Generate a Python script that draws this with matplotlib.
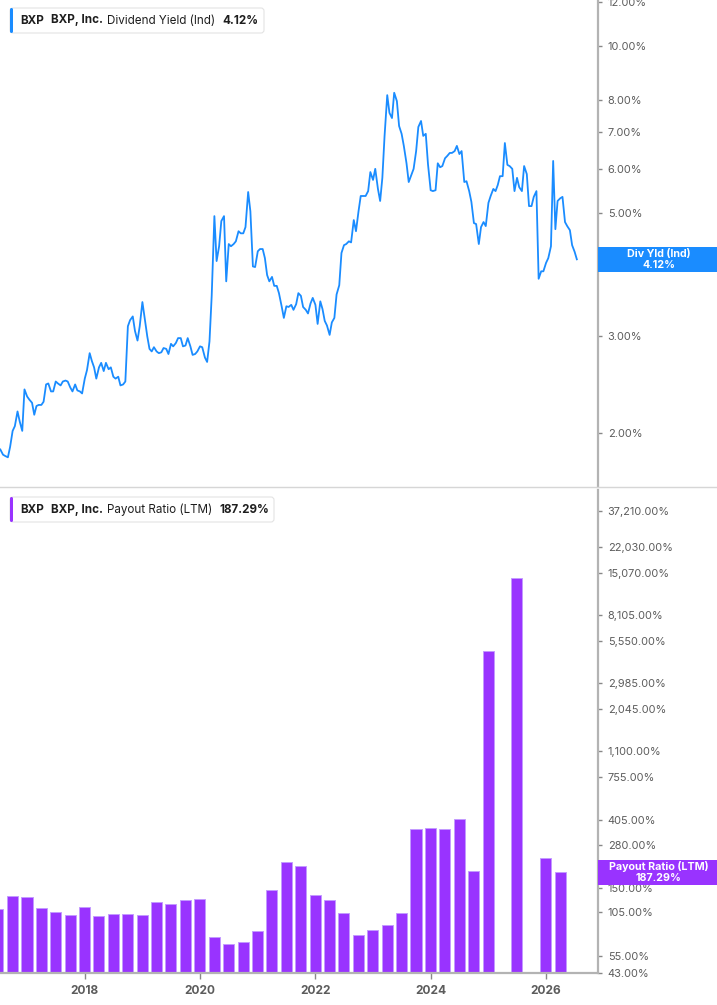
import matplotlib
matplotlib.use("Agg")
import matplotlib.pyplot as plt
import matplotlib.ticker as mticker
from matplotlib.patches import FancyBboxPatch, Rectangle
from matplotlib.lines import Line2D
import numpy as np
import pandas as pd

plt.rcParams['font.family'] = ['Inter', 'DejaVu Sans']

# ---------------- data ----------------
ticker_sym = "BXP"
company = "BXP, Inc."
yield_label = "Dividend Yield (Ind)"
yield_short = "Div Yld (Ind)"
payout_label = "Payout Ratio (LTM)"

yield_start = "2016-07-15"      # semi-monthly observations
dividend_yield = [
    1.87, 1.83, 1.82, 1.81, 1.89, 2.02, 2.06, 2.19, 2.10, 2.02,
    2.40, 2.33, 2.30, 2.27, 2.16, 2.24, 2.25, 2.25, 2.28, 2.45,
    2.46, 2.38, 2.38, 2.48, 2.46, 2.44, 2.48, 2.49, 2.48, 2.42,
    2.38, 2.45, 2.39, 2.38, 2.36, 2.51, 2.60, 2.79, 2.70, 2.63,
    2.51, 2.63, 2.68, 2.59, 2.68, 2.61, 2.63, 2.53, 2.51, 2.53,
    2.44, 2.45, 2.48, 3.12, 3.20, 3.25, 3.06, 2.94, 3.12, 3.45,
    3.23, 2.99, 2.84, 2.81, 2.86, 2.81, 2.79, 2.80, 2.85, 2.84,
    2.78, 2.90, 2.87, 2.91, 2.97, 2.97, 2.87, 2.88, 2.97, 2.87,
    2.77, 2.78, 2.81, 2.87, 2.86, 2.74, 2.69, 2.93, 3.54, 4.93,
    4.09, 4.35, 4.83, 4.93, 3.76, 4.39, 4.35, 4.39, 4.44, 4.63,
    4.59, 4.59, 4.71, 5.45, 5.03, 4.00, 3.99, 4.26, 4.30, 4.30,
    4.14, 3.86, 3.76, 3.83, 3.69, 3.69, 3.58, 3.39, 3.23, 3.39,
    3.38, 3.41, 3.34, 3.42, 3.58, 3.54, 3.38, 3.34, 3.29, 3.43,
    3.51, 3.41, 3.15, 3.46, 3.35, 3.19, 3.13, 3.01, 3.17, 3.23,
    3.56, 3.70, 4.23, 4.37, 4.39, 4.44, 4.42, 4.85, 4.63, 5.03,
    5.36, 5.36, 5.36, 5.47, 5.92, 5.73, 6.00, 5.52, 5.25, 5.78,
    6.88, 8.15, 7.57, 7.41, 8.23, 7.95, 7.17, 6.94, 6.60, 6.14,
    5.68, 5.85, 6.00, 6.46, 7.14, 7.32, 6.88, 6.94, 6.12, 5.49,
    5.47, 5.49, 6.14, 6.04, 6.07, 6.27, 6.33, 6.41, 6.41, 6.46,
    6.60, 6.38, 6.46, 5.68, 5.70, 5.47, 5.23, 4.79, 4.77, 4.39,
    4.71, 4.81, 4.73, 5.21, 5.36, 5.52, 5.47, 5.61, 5.82, 5.82,
    6.68, 6.10, 6.07, 6.00, 5.47, 5.78, 5.56, 5.47, 6.07, 5.87,
    5.14, 5.14, 5.34, 5.47, 3.80, 3.92, 3.92, 4.06, 4.14, 4.35,
    6.20, 4.67, 5.25, 5.31, 5.34, 4.81, 4.73, 4.65, 4.37, 4.25,
    4.12,
]
yield_current = 4.12

payout_start = "2016-06-30"     # quarter ends
payout_ratio = [
    108, 132, 129, 110, 104, 99, 112, 98, 101, 101,
    99, 120, 117, 124, 126, 72, 65, 67, 78, 143,
    216, 204, 134, 124, 102, 74, 80, 86, 102, 355,
    356, 355, 407, 189, 4800, None, 14000, None, 230, 187.29,
]
payout_current = 187.29

yield_ticks = [2, 3, 4, 5, 6, 7, 8, 10, 12]
payout_ticks = [43, 55, 105, 150, 280, 405, 755, 1100, 2045, 2985,
                5550, 8105, 15070, 22030, 37210]
year_ticks = [2018, 2020, 2022, 2024, 2026]

# ---------------- styles ----------------
W, H = 717, 1005
BLUE = '#1a8cff'
PURPLE = '#9933ff'
GREY_TXT = '#5c5c5c'
SPINE = '#b3b3b3'

fig = plt.figure(figsize=(W / 100, H / 100), dpi=100)
fig.patch.set_facecolor('white')

ax1 = fig.add_axes([0, 1 - 487 / H, 598 / W, 487 / H])
ax2 = fig.add_axes([0, 1 - 973 / H, 598 / W, (973 - 490) / H])

xmin, xmax = pd.Timestamp('2016-07-13'), pd.Timestamp('2026-11-26')

ydates = pd.date_range(yield_start, periods=len(dividend_yield), freq='SMS')
ax1.plot(ydates, dividend_yield, color=BLUE, lw=1.3, solid_joinstyle='round')
ax1.set_yscale('log')
ax1.set_ylim(1.60, 12.1)
ax1.set_xlim(xmin, xmax)

qdates = pd.date_range(payout_start, periods=len(payout_ratio), freq='QE')
bx = [d for d, v in zip(qdates, payout_ratio) if v is not None]
bv = [v for v in payout_ratio if v is not None]
ax2.bar(bx, bv, width=70, bottom=1, color=PURPLE, edgecolor='#c39bff', linewidth=0.7)
ax2.set_yscale('log')
ax2.set_ylim(43, 50400)
ax2.set_xlim(xmin, xmax)

for ax, ticks, fmt in ((ax1, yield_ticks, "{:.2f}%"), (ax2, payout_ticks, "{:,.2f}%")):
    ax.set_facecolor('white')
    ax.yaxis.tick_right()
    ax.yaxis.set_major_locator(mticker.FixedLocator(ticks))
    ax.yaxis.set_minor_locator(mticker.NullLocator())
    ax.set_yticklabels([fmt.format(t) for t in ticks])
    ax.tick_params(axis='y', which='major', direction='out', length=3, width=1,
                   color='#888888', labelcolor=GREY_TXT, labelsize=7.9, pad=4)
    for s in ('left', 'top'):
        ax.spines[s].set_visible(False)
    ax.spines['right'].set_color(SPINE)
    ax.spines['right'].set_linewidth(1.6)
    ax.xaxis.set_minor_locator(mticker.NullLocator())

ax1.spines['bottom'].set_visible(False)
ax1.set_xticks([])

ax2.spines['bottom'].set_color(SPINE)
ax2.spines['bottom'].set_linewidth(1.6)
ax2.set_xticks([pd.Timestamp(f'{y}-01-01') for y in year_ticks])
ax2.set_xticklabels([str(y) for y in year_ticks])
ax2.tick_params(axis='x', direction='out', length=4, width=1, color='#888888',
                labelcolor=GREY_TXT, labelsize=8.6, pad=4.5)
for lbl in ax2.get_xticklabels():
    lbl.set_fontweight('bold')

# separator between panels
fig.add_artist(Line2D([0, 1], [1 - 487.5 / H] * 2, transform=fig.transFigure,
                      color='#d6d6d6', lw=1))


def fx(x):
    return x / W


def fy(y):
    return 1 - y / H


def legend(y0, y1, x1, color, pieces):
    box = FancyBboxPatch((10, H - y1), x1 - 10, y1 - y0,
                         boxstyle='round,pad=0,rounding_size=3', transform=None,
                         fc='white', ec='#e3e3e3', lw=0.8, zorder=6)
    fig.add_artist(box)
    strip = FancyBboxPatch((10, H - y1), 3, y1 - y0,
                           boxstyle='round,pad=0,rounding_size=1.5', transform=None,
                           fc=color, ec='none', zorder=7)
    fig.add_artist(strip)
    yc = (y0 + y1) / 2
    for x, s, w in pieces:
        fig.text(fx(x), fy(yc), s, fontsize=8.4, fontweight=w, color='#1e1e1e',
                 ha='left', va='center', zorder=8)


legend(8, 33, 264, BLUE,
       [(20, ticker_sym, 'bold'), (51.5, company, 'bold'),
        (107, yield_label, 'normal'), (222.5, f"{yield_current:.2f}%", 'bold')])
legend(497, 522, 274, PURPLE,
       [(20, ticker_sym, 'bold'), (51.5, company, 'bold'),
        (107, payout_label, 'normal'), (219, f"{payout_current:,.2f}%", 'bold')])


def value_box(ax, val, color, title, text):
    _, ydisp = ax.transData.transform((ax.get_xlim()[0], val))
    hgt = 25.5
    rect = Rectangle((598, ydisp - hgt / 2), 119, hgt, transform=None,
                     fc=color, ec='none', zorder=10)
    fig.add_artist(rect)
    fig.text(fx(659), (ydisp + 5.8) / H, title, fontsize=7.7, fontweight='bold',
             color='white', ha='center', va='center', zorder=11)
    fig.text(fx(659), (ydisp - 6.0) / H, text, fontsize=7.7, fontweight='bold',
             color='white', ha='center', va='center', zorder=11)


value_box(ax1, yield_current, BLUE, yield_short, f"{yield_current:.2f}%")
value_box(ax2, payout_current, PURPLE, payout_label, f"{payout_current:,.2f}%")

fig.savefig('out.png', dpi=100, facecolor='white')
